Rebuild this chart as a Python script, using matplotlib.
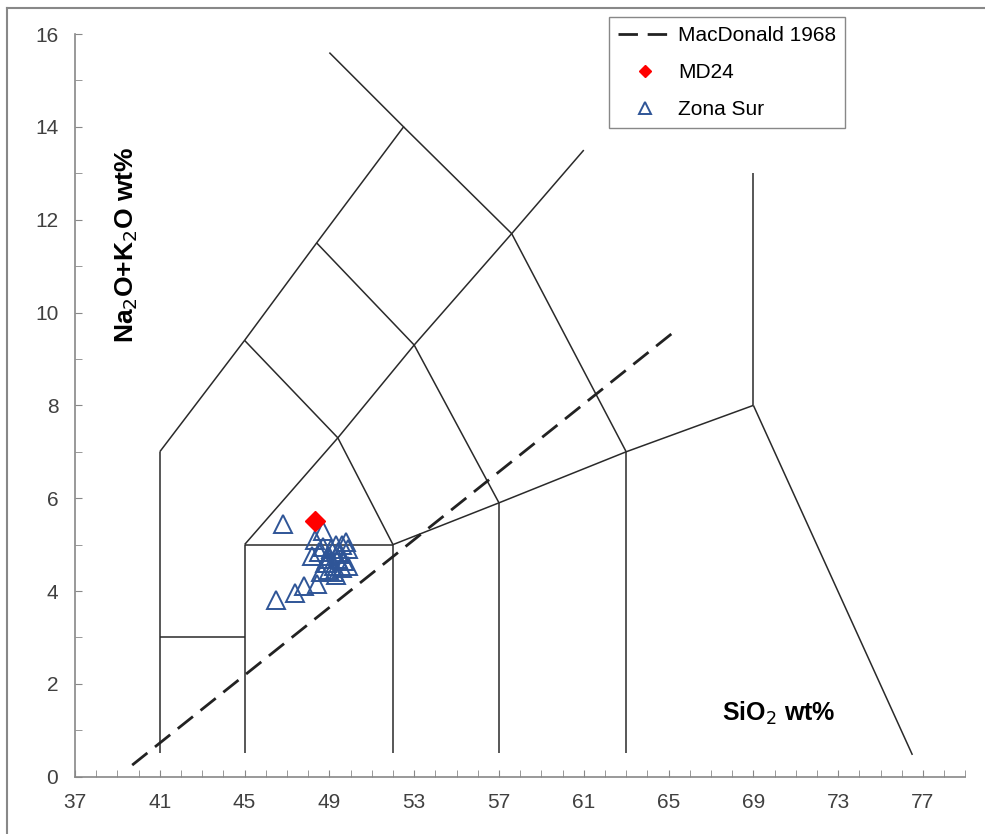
import matplotlib.pyplot as plt
from matplotlib.lines import Line2D
from matplotlib.ticker import MultipleLocator

plt.rcParams['font.family'] = ['Liberation Sans', 'DejaVu Sans']

# TAS field boundaries (Le Bas et al.), SiO2 / Na2O+K2O
tas_lines = [
    ([41, 41], [0.5, 7]),
    ([41, 45], [3, 3]),
    ([45, 45], [0.5, 5]),
    ([45, 52], [5, 5]),
    ([52, 52], [0.5, 5]),
    ([57, 57], [0.5, 5.9]),
    ([63, 63], [0.5, 7]),
    ([52, 57, 63, 69], [5, 5.9, 7, 8]),
    ([69, 69], [8, 13]),
    ([69, 76.5], [8, 0.47]),
    ([41, 45, 48.4, 52.5, 49], [7, 9.4, 11.5, 14, 15.6]),
    ([52.5, 57.6, 63], [14, 11.7, 7]),
    ([45, 49.4, 52], [9.4, 7.3, 5]),
    ([45, 49.4, 53, 57.6, 61], [5, 7.3, 9.3, 11.7, 13.5]),
    ([48.4, 53, 57], [11.5, 9.3, 5.9]),
]

macdonald_x = [39.7, 65.3]
macdonald_y = [0.25, 9.6]

md24_sio2 = [48.3]
md24_alk = [5.5]

zs_sio2 = [46.8, 48.7, 48.3, 46.5, 47.4, 47.8, 48.4, 48.6, 48.9, 48.2,
           48.5, 49.3, 49.8, 49.4, 49.6, 49.9, 49.3, 49.0, 49.1, 49.5,
           49.7, 48.8, 49.2, 49.0, 48.7, 49.6, 49.9, 49.4, 48.9, 49.2]
zs_alk = [5.45, 5.3, 5.1, 3.8, 3.95, 4.1, 4.15, 4.4, 4.6, 4.75,
          4.85, 5.0, 5.05, 4.7, 4.5, 4.9, 4.35, 4.75, 4.9, 4.8,
          4.65, 4.6, 4.55, 4.45, 4.95, 5.0, 4.55, 4.85, 4.7, 4.4]

xticks = list(range(37, 78, 4))
yticks = list(range(0, 17, 2))

fig = plt.figure(figsize=(9.85, 8.34), dpi=100)
ax = fig.add_axes([0.0761, 0.0687, 0.904, 0.8905])

for xs, ys in tas_lines:
    ax.plot(xs, ys, color='#2a2a2a', lw=1.1, solid_capstyle='butt')

ax.plot(macdonald_x, macdonald_y, color='#222222', lw=2.0, dashes=(7, 3.5),
        label='MacDonald 1968')
ax.plot(md24_sio2, md24_alk, ls='none', marker='D', ms=10, color='#ff0000',
        mec='#ff0000', label='MD24', zorder=4)
ax.plot(zs_sio2, zs_alk, ls='none', marker='^', ms=13, mfc='none',
        mec='#2f5597', mew=1.4, label='Zona Sur', zorder=3)

ax.set_xlim(37, 79)
ax.set_ylim(0, 16)
ax.set_xticks(xticks)
ax.set_yticks(yticks)
ax.xaxis.set_minor_locator(MultipleLocator(1))
ax.yaxis.set_minor_locator(MultipleLocator(1))
for s in ['top', 'right']:
    ax.spines[s].set_visible(False)
for s in ['left', 'bottom']:
    ax.spines[s].set_color('#888888')
    ax.spines[s].set_linewidth(1.2)
ax.tick_params(which='both', direction='in', length=5, color='#888888',
               labelsize=15, labelcolor='#404040', pad=12)

ax.text(0.058, 0.716, 'Na$_2$O+K$_2$O wt%', transform=ax.transAxes,
        rotation=90, ha='center', va='center', fontsize=19, fontweight='bold')
ax.text(0.79, 0.085, 'SiO$_2$ wt%', transform=ax.transAxes,
        ha='center', va='center', fontsize=18, fontweight='bold')

leg = ax.legend(loc='upper left', bbox_to_anchor=(0.6183, 0.9796),
                bbox_transform=fig.transFigure, fontsize=15, fancybox=False,
                edgecolor='#888888', framealpha=1, handlelength=2.6,
                borderpad=0.45, labelspacing=0.85, borderaxespad=0,
                markerscale=0.65, handletextpad=0.25)
leg.get_frame().set_linewidth(1.0)

# frame of the original picture (only top and left visible)
fig.add_artist(Line2D([0.007, 1.0], [0.991, 0.991], color='#888888', lw=1.5,
                      transform=fig.transFigure))
fig.add_artist(Line2D([0.007, 0.007], [0.0, 0.991], color='#888888', lw=1.5,
                      transform=fig.transFigure))

fig.savefig('out.png', dpi=100)
